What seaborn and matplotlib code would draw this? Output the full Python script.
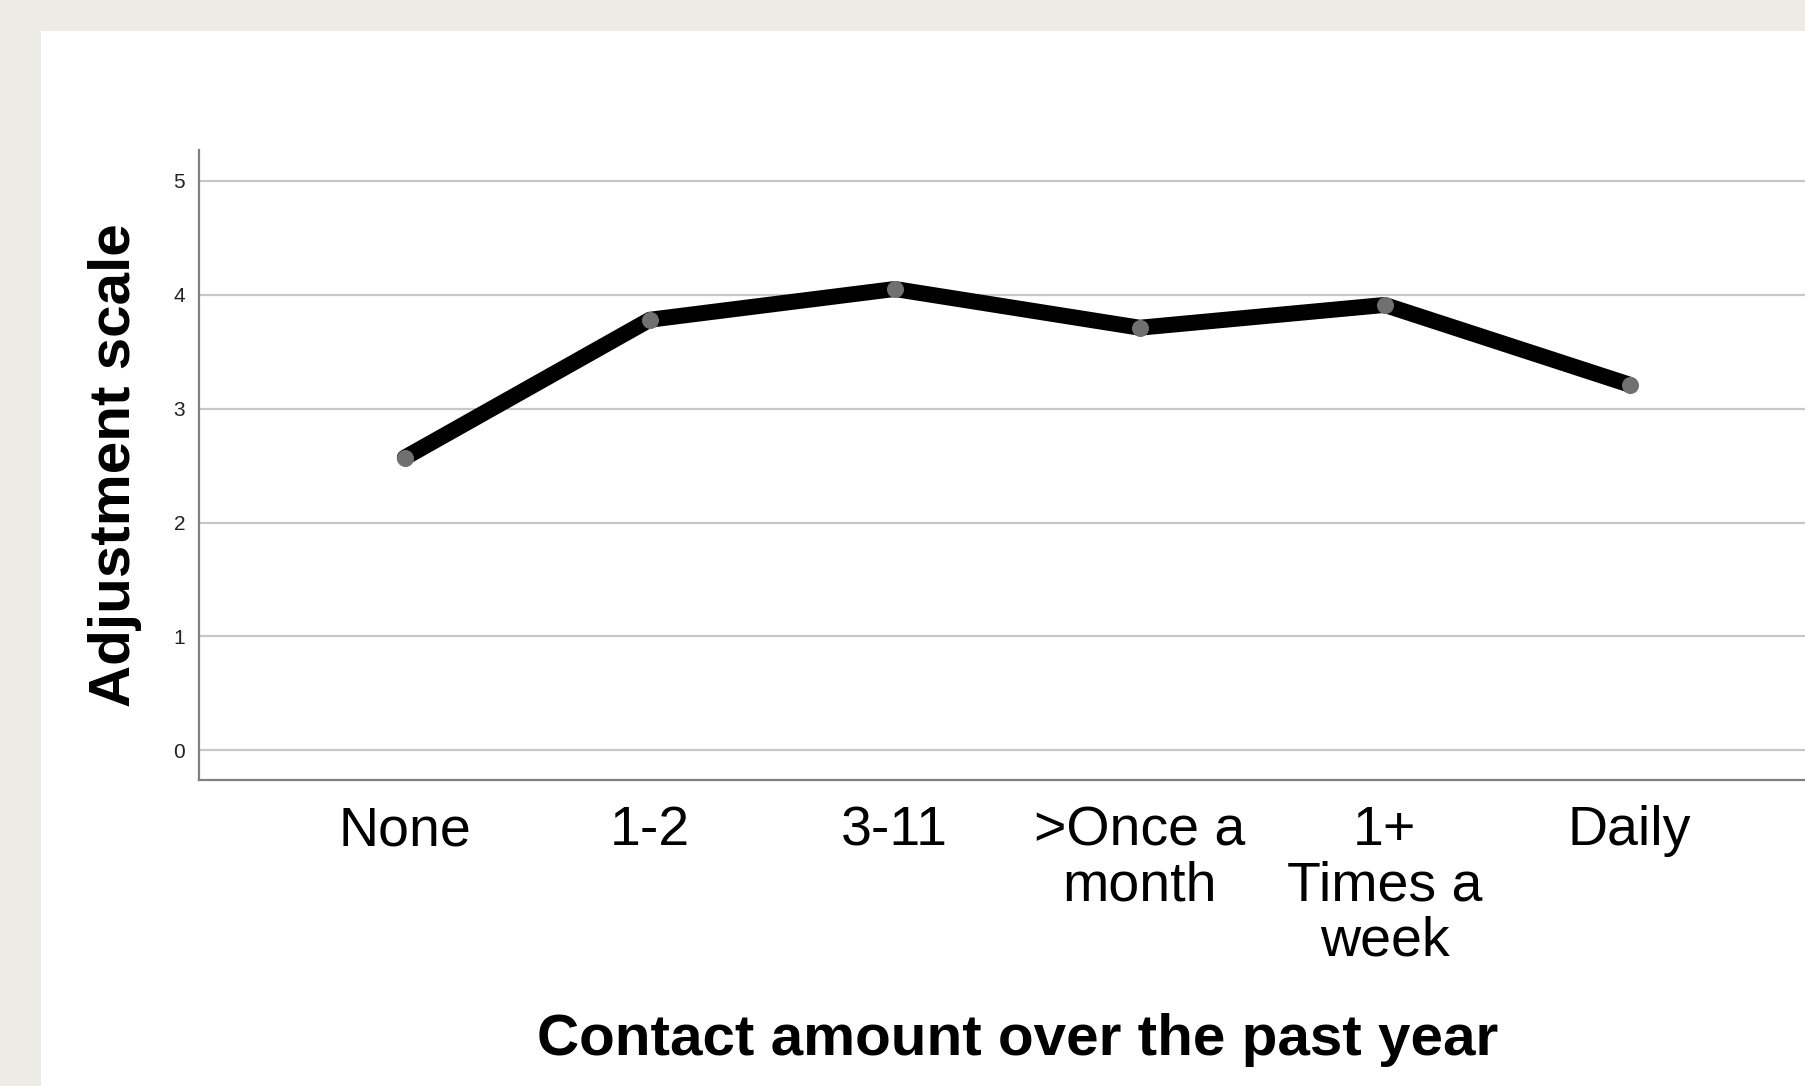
import matplotlib
matplotlib.use("Agg")
import matplotlib.pyplot as plt
import matplotlib.patches as mpatches
import seaborn as sns
import pandas as pd

# values
categories = ["None", "1-2", "3-11", ">Once a month", "1+ Times a week", "Daily"]
tick_labels = ["None", "1-2", "3-11", ">Once a\nmonth", "1+\nTimes a\nweek", "Daily"]
adjustment = [2.57, 3.78, 4.05, 3.71, 3.91, 3.21]
y_ticks = [0, 1, 2, 3, 4, 5]

df = pd.DataFrame({"contact": categories, "adjustment": adjustment})

sns.set_style("white")
plt.rcParams["font.family"] = ["Liberation Sans", "DejaVu Sans"]
plt.rcParams["text.color"] = "black"
plt.rcParams["axes.labelcolor"] = "black"
plt.rcParams["xtick.color"] = "black"
plt.rcParams["ytick.color"] = "black"

fig = plt.figure(figsize=(18.06, 10.86), dpi=100)
fig.patch.set_facecolor("#ecebe5")
# white chart panel on the textured page
fig.patches.append(mpatches.Rectangle((41 / 1806, 0), 1, (1086 - 31) / 1086,
                                      transform=fig.transFigure, facecolor="white",
                                      edgecolor="none", zorder=-10))

ax = fig.add_axes([199 / 1806, (1086 - 780) / 1086, 1 - 199 / 1806, 630 / 1086])
ax.set_facecolor("white")

sns.lineplot(data=df, x="contact", y="adjustment", sort=False, ax=ax,
             color="black", linewidth=11.5, marker="o", markersize=11.5,
             markerfacecolor="#707070", markeredgecolor="#707070",
             solid_joinstyle="round", solid_capstyle="round")

ax.set_xlim(-0.84, 5.72)
ax.set_ylim(-0.26, 5.27)
ax.set_yticks(y_ticks)
ax.set_xticks(range(len(categories)))
ax.set_xticklabels(tick_labels, fontsize=40, linespacing=1.08)
ax.tick_params(axis="y", labelsize=15, length=0, pad=10, labelcolor="#222222")
ax.tick_params(axis="x", length=0, pad=18, labelcolor="black")

ax.grid(axis="y", color="#c8c8c8", linewidth=1.6)
ax.set_axisbelow(True)
for side in ["top", "right"]:
    ax.spines[side].set_visible(False)
for side in ["left", "bottom"]:
    ax.spines[side].set_color("#808080")
    ax.spines[side].set_linewidth(1.6)

ax.set_xlabel("Contact amount over the past year", fontsize=42, fontweight="bold", color="black")
ax.set_ylabel("Adjustment scale", fontsize=42, fontweight="bold", color="black")
ax.xaxis.set_label_coords((1018 - 199) / (1806 - 199), -(1040 - 780) / 630)
ax.yaxis.set_label_coords(-(199 - 115) / (1806 - 199), 0.5)
ax.xaxis.label.set_va("center")
ax.yaxis.label.set_va("center")

fig.savefig("out.png", dpi=100, facecolor=fig.get_facecolor())
